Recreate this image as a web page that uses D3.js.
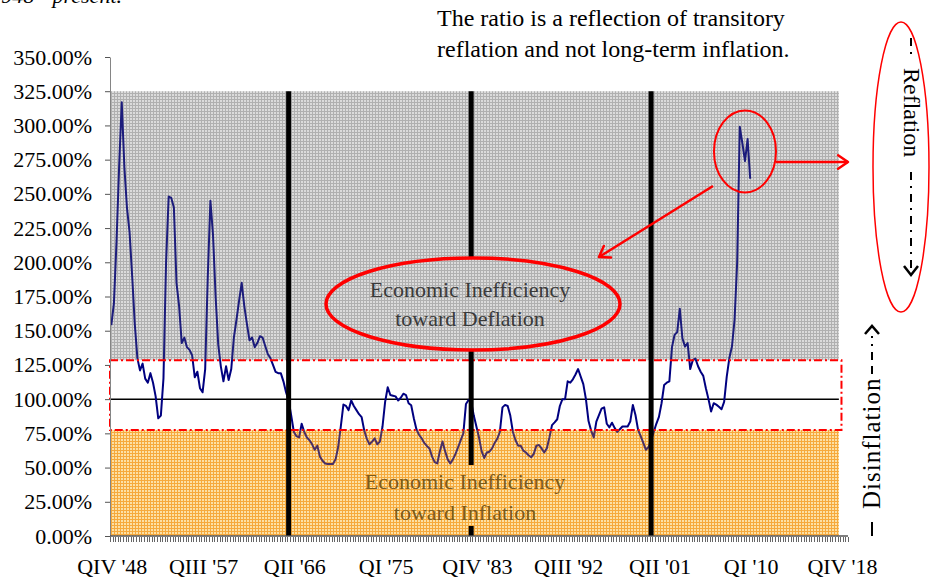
<!DOCTYPE html>
<html><head><meta charset="utf-8">
<script src="https://cdn.jsdelivr.net/npm/d3@7"></script>
<style>
body{margin:0;background:#fff}
svg{display:block}
text{font-family:"Liberation Serif","Times New Roman",serif}
</style>
</head><body>
<svg id="c" width="931" height="581"></svg>
<script>
// ---------- data ----------
const quarterNames = ["QI","QII","QIII","QIV"];
const startYear = 1948, startQuarter = 4, categoryCount = 283;
const tickLabels = ["QIV '48","QIII '57","QII '66","QI '75","QIV '83","QIII '92","QII '01","QI '10","QIV '18"];
const yTicks = [0,25,50,75,100,125,150,175,200,225,250,275,300,325,350];
const ratioValues = [
154,170,215,270,317,270,240,222,190,155,
130,121,126,115,112,119,112,102,86,88,
115,200,248,247,240,185,168,141,145,138,
136,132,116,120,108,105,122,190,245,220,
175,140,124,113,124,114,122,145,158,172,
185,168,155,143,145,138,141,146,145,139,
133,130,125,120,119,119,113,105,99,88,
76,73,72,82,76,72,70,67,63,66,
58,55,53,52.6,52.6,52.6,56,65,80,96,
95,92,99,95,92,89,86.8,77,71,67,
69,71.4,67,69,80,98,108.7,103,102.5,102,
99,101,104,103,97,95.5,86,78,74,71.4,
68,65.8,64,58,54,53,62,69,62,56,
53,56,60,65,70,75,96.5,99.4,98,88,
80,72,62,57,61,61.6,64,68,71,76,
94,95.8,95,88,76,70,66,66,62.4,61,
59,57.5,60,66,66.5,64,61,64,72,81,
83,85.3,95,100,100,113,112,114.5,118,122,
116.5,111,100,84,77,72,83.6,88.4,93,94,
82,79.4,82.8,79,76,78,80,80,80,83.6,
95.8,88.4,77.5,73,68,63,65,70,76,82,
87,97,110.4,112,113,138,147,149,166,144.5,
138.4,141,122,128.6,129.6,124,120,117,108,100,
91,97,96,94.5,92.6,98,116.5,130,138.4,158,
200,299,287,274,290,261
];
const shadeTop = 325, bandUpper = 128.5, bandLower = 77.5, parityLevel = 100;
const markerQuarters = ["QIV '65","QII '83","QIII '00"];
const shadeEndQuarter = "QIII '18", boxEndQuarter = "QIV '18";
const deflationText = ["Economic Inefficiency","toward Deflation"];
const inflationText = ["Economic Inefficiency","toward Inflation"];
const noteText = ["The ratio is a reflection of transitory","reflation and not long-term inflation."];

// ---------- categories ----------
const categories = d3.range(categoryCount).map(i => {
  const k = startQuarter - 1 + i;
  const yr = (startYear + Math.floor(k / 4)) % 100;
  return quarterNames[k % 4] + " '" + String(yr).padStart(2, "0");
});

// ---------- scales ----------
const svg = d3.select("#c");
const x = d3.scaleBand().domain(categories).range([110, 848]).padding(0);
const bw = x.bandwidth();
const cx = c => x(c) + bw / 2;
const y = d3.scaleLinear().domain([0, 350]).range([536, 57]);
const plotLeft = 110;
const shadeRight = cx(shadeEndQuarter);
const boxRight = cx(boxEndQuarter);

// ---------- patterns ----------
const defs = svg.append("defs");
function grid(id, cell, line) {
  const p = defs.append("pattern").attr("id", id).attr("patternUnits", "userSpaceOnUse")
    .attr("width", 3).attr("height", 3);
  p.append("rect").attr("width", 3).attr("height", 3).attr("fill", cell);
  p.append("rect").attr("width", 1).attr("height", 3).attr("fill", line);
  p.append("rect").attr("width", 3).attr("height", 1).attr("fill", line);
}
grid("greyBase", "#ffffff", "#c6c6c6");
grid("orangeBase", "#fffcdb", "#f6ae45");
grid("greyFull", "#dbdbdb", "#b0b0b0");
grid("orangeFull", "#fce1a5", "#f6aa3c");

// ---------- base shading ----------
svg.append("rect").attr("x", plotLeft).attr("y", y(shadeTop)).attr("width", shadeRight - plotLeft)
  .attr("height", y(bandUpper) - y(shadeTop)).attr("fill", "url(#greyBase)");
svg.append("rect").attr("x", plotLeft).attr("y", y(bandLower)).attr("width", shadeRight - plotLeft)
  .attr("height", y(0) - y(bandLower)).attr("fill", "url(#orangeBase)");

// parity line
svg.append("line").attr("x1", plotLeft).attr("x2", shadeRight).attr("y1", y(parityLevel)).attr("y2", y(parityLevel))
  .attr("stroke", "#000").attr("stroke-width", 1.5);

// ---------- data line ----------
const lineGen = d3.line().x((d, i) => cx(categories[i])).y(d => y(d));
svg.append("path").datum(ratioValues).attr("d", lineGen).attr("fill", "none")
  .attr("stroke", "#000080").attr("stroke-width", 2).attr("stroke-linejoin", "round");

// tints
svg.append("rect").attr("x", plotLeft).attr("y", y(shadeTop)).attr("width", shadeRight - plotLeft)
  .attr("height", y(bandUpper) - y(shadeTop)).attr("fill", "#6e6e6e").attr("fill-opacity", 0.25);
svg.append("rect").attr("x", plotLeft).attr("y", y(bandLower)).attr("width", shadeRight - plotLeft)
  .attr("height", y(0) - y(bandLower)).attr("fill", "#f5a028").attr("fill-opacity", 0.3);

// red dash-dot band
svg.append("rect").attr("x", plotLeft).attr("y", y(bandUpper)).attr("width", boxRight - plotLeft)
  .attr("height", y(bandLower) - y(bandUpper)).attr("fill", "none")
  .attr("stroke", "#ff0000").attr("stroke-width", 2).attr("stroke-dasharray", "8,3,2,3");

// vertical markers
svg.selectAll(".marker").data(markerQuarters).join("line").attr("class", "marker")
  .attr("x1", d => cx(d)).attr("x2", d => cx(d)).attr("y1", y(shadeTop)).attr("y2", y(0))
  .attr("stroke", "#000").attr("stroke-width", 5);

// deflation ellipse
svg.append("ellipse").attr("cx", 473).attr("cy", 304).attr("rx", 147).attr("ry", 46)
  .attr("fill", "url(#greyFull)").attr("stroke", "#ff0000").attr("stroke-width", 3.5);
svg.append("text").attr("x", 470).attr("text-anchor", "middle").attr("fill", "#3a3a3a").attr("font-size", 22)
  .selectAll("tspan").data(deflationText).join("tspan").attr("x", 470).attr("y", (d, i) => 297 + i * 29).text(d => d);

// inflation text box
svg.append("rect").attr("x", 355).attr("y", 465).attr("width", 220).attr("height", 61).attr("fill", "url(#orangeFull)");
svg.append("text").attr("text-anchor", "middle").attr("fill", "#7a5a1c").attr("font-size", 22)
  .selectAll("tspan").data(inflationText).join("tspan").attr("x", 465).attr("y", (d, i) => 489 + i * 31).text(d => d);

// ---------- axes ----------
const yAxis = d3.axisLeft(y).tickValues(yTicks).tickSize(5).tickSizeOuter(0).tickPadding(13)
  .tickFormat(d => d.toFixed(2) + "%");
const gy = svg.append("g").attr("transform", `translate(${plotLeft},0)`).call(yAxis);
gy.select(".domain").attr("stroke", "#858585");
gy.selectAll(".tick line").attr("stroke", "#555");
gy.selectAll(".tick text").attr("font-size", 22).attr("fill", "#000")
  .attr("font-family", "Liberation Serif, Times New Roman, serif");

const gx = svg.append("g");
gx.append("line").attr("x1", 110).attr("x2", 848).attr("y1", y(0)).attr("y2", y(0)).attr("stroke", "#555").attr("stroke-width", 1.5);
gx.selectAll(".xt").data(d3.range(categoryCount + 1)).join("line").attr("class", "xt")
  .attr("x1", i => Math.round(110 + i * bw) + 0.5).attr("x2", i => Math.round(110 + i * bw) + 0.5)
  .attr("y1", y(0) + 1).attr("y2", y(0) + 6).attr("stroke", "#666").attr("stroke-width", 1);
gx.selectAll(".xl").data(tickLabels).join("text").attr("class", "xl")
  .attr("x", d => cx(d) + 1).attr("y", 574).attr("text-anchor", "middle").attr("font-size", 22).text(d => d);

// ---------- annotations ----------
svg.append("text").attr("x", 122).attr("y", 3).attr("text-anchor", "end").attr("font-style", "italic")
  .attr("font-size", 22).text("1948 - present.");
svg.append("text").attr("font-size", 24).attr("fill", "#000")
  .selectAll("tspan").data(noteText).join("tspan").attr("x", 437).attr("y", (d, i) => 26 + i * 31).text(d => d);

const red = "#ff0000";
// peak circle
const peakX = cx(categories[243]), peakY = y(281);
svg.append("ellipse").attr("cx", peakX).attr("cy", peakY).attr("rx", 31).attr("ry", 41)
  .attr("fill", "none").attr("stroke", red).attr("stroke-width", 2);
function arrow(x1, y1, x2, y2, w) {
  const a = Math.atan2(y2 - y1, x2 - x1), L = 12, s = 0.6;
  svg.append("line").attr("x1", x1).attr("y1", y1).attr("x2", x2).attr("y2", y2).attr("stroke", red).attr("stroke-width", w);
  const p = [[x2 - L * Math.cos(a - s), y2 - L * Math.sin(a - s)], [x2, y2], [x2 - L * Math.cos(a + s), y2 - L * Math.sin(a + s)]];
  svg.append("path").attr("d", d3.line()(p)).attr("fill", "none").attr("stroke", red).attr("stroke-width", w)
    .attr("stroke-linecap", "round").attr("stroke-linejoin", "round");
}
arrow(peakX + 31, 162, 848, 162, 2.5);
arrow(713, 186, 599, 257, 2.5);

// right-hand annotations
svg.append("ellipse").attr("cx", 901).attr("cy", 167).attr("rx", 28).attr("ry", 145)
  .attr("fill", "none").attr("stroke", red).attr("stroke-width", 1.5);
svg.append("text").attr("transform", "translate(904,68) rotate(90)").attr("font-size", 24).text("Reflation");
function vdash(xp, y1, y2, dash) {
  svg.append("line").attr("x1", xp).attr("x2", xp).attr("y1", y1).attr("y2", y2)
    .attr("stroke", "#000").attr("stroke-width", 2).attr("stroke-dasharray", dash);
}
vdash(911, 38, 62, "8,6,2,20");
vdash(911, 172, 272, "8,6,2,6");
svg.append("path").attr("d", d3.line()([[904, 266], [911, 275], [918, 266]])).attr("fill", "none")
  .attr("stroke", "#000").attr("stroke-width", 2.5);

svg.append("text").attr("transform", "translate(880,509) rotate(-90)").attr("font-size", 25)
  .attr("letter-spacing", 1).text("Disinflation");
vdash(872, 522, 536, "14");
vdash(872, 336, 380, "2,6,2,6,8,6,8,6");
svg.append("path").attr("d", d3.line()([[865, 334], [872, 326], [879, 334]])).attr("fill", "none")
  .attr("stroke", "#000").attr("stroke-width", 2.5);
</script>
</body></html>
